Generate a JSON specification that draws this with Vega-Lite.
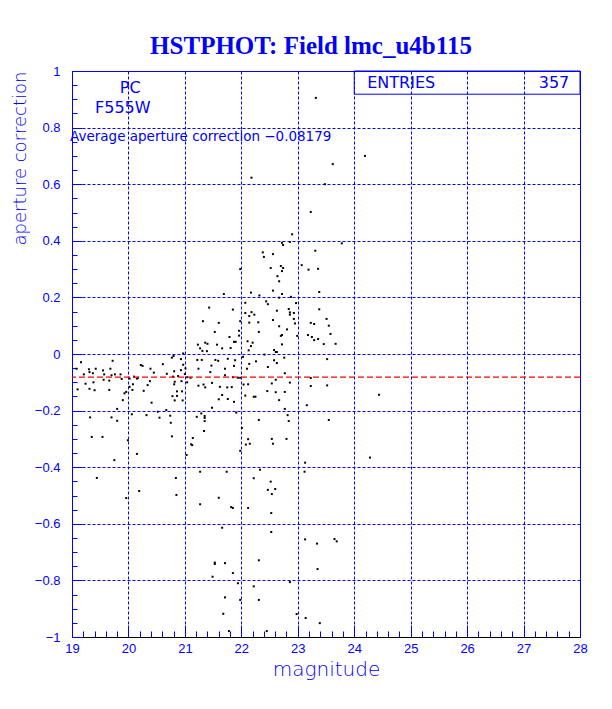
{
 "$schema": "https://vega.github.io/schema/vega-lite/v6.json",
 "width": 508, "height": 566,
 "autosize": {"type": "none"},
 "padding": {"left": 72, "top": 71, "right": 32, "bottom": 72},
 "background": "white",
 "title": {"text": "HSTPHOT: Field lmc_u4b115", "font": "Liberation Serif", "fontSize": 25, "fontWeight": "bold", "color": "#0000ff", "anchor": "middle", "frame": "group", "baseline": "alphabetic", "offset": 24, "dx": -15, "dy": 38},
 "config": {"view": {"stroke": "#0000ff", "strokeWidth": 1}},
 "datasets": {"stars": [
  {"magnitude":23.32,"apcorr":0.905},{"magnitude":23.62,"apcorr":0.671},{"magnitude":24.19,"apcorr":0.700},{"magnitude":22.18,"apcorr":0.623},{"magnitude":23.48,"apcorr":0.600},{"magnitude":23.23,"apcorr":0.502},{"magnitude":22.90,"apcorr":0.423},{"magnitude":22.72,"apcorr":0.393},{"magnitude":22.74,"apcorr":0.385},{"magnitude":22.86,"apcorr":0.396},{"magnitude":23.78,"apcorr":0.391},{"magnitude":23.31,"apcorr":0.365},{"magnitude":22.56,"apcorr":0.353},{"magnitude":22.38,"apcorr":0.359},{"magnitude":22.40,"apcorr":0.343},{"magnitude":21.98,"apcorr":0.300},{"magnitude":22.52,"apcorr":0.304},{"magnitude":22.70,"apcorr":0.311},{"magnitude":22.74,"apcorr":0.304},{"magnitude":22.72,"apcorr":0.293},{"magnitude":22.64,"apcorr":0.275},{"magnitude":23.07,"apcorr":0.314},{"magnitude":23.19,"apcorr":0.298},{"magnitude":23.36,"apcorr":0.301},{"magnitude":22.67,"apcorr":0.257},
  {"magnitude":22.17,"apcorr":0.217},{"magnitude":22.32,"apcorr":0.207},{"magnitude":21.69,"apcorr":0.212},{"magnitude":22.44,"apcorr":0.186},{"magnitude":22.47,"apcorr":0.176},{"magnitude":22.07,"apcorr":0.181},{"magnitude":21.43,"apcorr":0.164},{"magnitude":21.85,"apcorr":0.157},{"magnitude":22.18,"apcorr":0.148},{"magnitude":22.07,"apcorr":0.145},{"magnitude":22.14,"apcorr":0.134},{"magnitude":22.23,"apcorr":0.139},{"magnitude":21.32,"apcorr":0.116},{"magnitude":21.60,"apcorr":0.110},{"magnitude":21.98,"apcorr":0.116},{"magnitude":22.14,"apcorr":0.111},{"magnitude":22.30,"apcorr":0.112},{"magnitude":21.53,"apcorr":0.078},{"magnitude":22.31,"apcorr":0.078},{"magnitude":21.96,"apcorr":0.082},{"magnitude":21.96,"apcorr":0.065},{"magnitude":21.79,"apcorr":0.060},{"magnitude":21.36,"apcorr":0.040},{"magnitude":21.40,"apcorr":0.036},{"magnitude":21.23,"apcorr":0.033},{"magnitude":21.57,"apcorr":0.033},{"magnitude":21.87,"apcorr":0.043},{"magnitude":21.90,"apcorr":0.043},{"magnitude":22.11,"apcorr":0.045},{"magnitude":22.20,"apcorr":0.040},{"magnitude":21.27,"apcorr":0.020},{"magnitude":21.66,"apcorr":0.020},{"magnitude":21.81,"apcorr":0.021},{"magnitude":22.17,"apcorr":0.028},{"magnitude":22.13,"apcorr":0.013},{"magnitude":20.97,"apcorr":0.002},{"magnitude":21.31,"apcorr":0.011},{"magnitude":21.39,"apcorr":0.010},{"magnitude":22.03,"apcorr":-0.010},{"magnitude":20.93,"apcorr":-0.018},{"magnitude":21.22,"apcorr":-0.021},{"magnitude":21.30,"apcorr":-0.021},{"magnitude":21.54,"apcorr":-0.021},{"magnitude":21.76,"apcorr":-0.017},{"magnitude":21.89,"apcorr":-0.022},{"magnitude":22.26,"apcorr":-0.026},{"magnitude":22.41,"apcorr":-0.002},{"magnitude":20.97,"apcorr":-0.038},{"magnitude":21.01,"apcorr":-0.051},{"magnitude":21.24,"apcorr":-0.052},{"magnitude":21.47,"apcorr":-0.041},{"magnitude":21.59,"apcorr":-0.024},{"magnitude":21.71,"apcorr":-0.052},{"magnitude":21.87,"apcorr":-0.042},{"magnitude":22.14,"apcorr":-0.035},{"magnitude":22.47,"apcorr":-0.046},{"magnitude":20.93,"apcorr":-0.057},{"magnitude":21.00,"apcorr":-0.071},{"magnitude":21.45,"apcorr":-0.064},{"magnitude":22.10,"apcorr":-0.052},{"magnitude":21.04,"apcorr":-0.082},{"magnitude":21.10,"apcorr":-0.084},{"magnitude":21.71,"apcorr":-0.075},{"magnitude":21.85,"apcorr":-0.082},{"magnitude":21.94,"apcorr":-0.084},{"magnitude":21.98,"apcorr":-0.084},{"magnitude":20.94,"apcorr":-0.096},{"magnitude":21.04,"apcorr":-0.100},{"magnitude":21.24,"apcorr":-0.112},{"magnitude":21.33,"apcorr":-0.108},{"magnitude":21.36,"apcorr":-0.118},{"magnitude":21.48,"apcorr":-0.102},{"magnitude":21.62,"apcorr":-0.116},{"magnitude":21.75,"apcorr":-0.118},{"magnitude":21.83,"apcorr":-0.117},{"magnitude":22.04,"apcorr":-0.108},{"magnitude":22.12,"apcorr":-0.107},{"magnitude":20.95,"apcorr":-0.132},{"magnitude":21.66,"apcorr":-0.145},{"magnitude":22.07,"apcorr":-0.147},{"magnitude":22.22,"apcorr":-0.151},{"magnitude":22.25,"apcorr":-0.151},{"magnitude":22.46,"apcorr":-0.131},{"magnitude":20.96,"apcorr":-0.164},{"magnitude":21.60,"apcorr":-0.160},{"magnitude":21.76,"apcorr":-0.159},
  {"magnitude":22.56,"apcorr":0.224},{"magnitude":22.72,"apcorr":0.212},{"magnitude":22.67,"apcorr":0.199},{"magnitude":22.88,"apcorr":0.202},{"magnitude":23.38,"apcorr":0.219},{"magnitude":22.97,"apcorr":0.180},{"magnitude":22.63,"apcorr":0.153},{"magnitude":22.84,"apcorr":0.159},{"magnitude":22.86,"apcorr":0.147},{"magnitude":22.86,"apcorr":0.139},{"magnitude":22.93,"apcorr":0.145},{"magnitude":23.38,"apcorr":0.158},{"magnitude":22.93,"apcorr":0.124},{"magnitude":22.56,"apcorr":0.120},{"magnitude":22.95,"apcorr":0.108},{"magnitude":23.23,"apcorr":0.110},{"magnitude":23.29,"apcorr":0.106},{"magnitude":23.51,"apcorr":0.124},{"magnitude":23.55,"apcorr":0.100},{"magnitude":22.81,"apcorr":0.087},{"magnitude":22.72,"apcorr":0.067},{"magnitude":22.70,"apcorr":0.064},{"magnitude":22.99,"apcorr":0.064},{"magnitude":23.18,"apcorr":0.067},{"magnitude":23.25,"apcorr":0.060},{"magnitude":23.58,"apcorr":0.071},{"magnitude":23.29,"apcorr":0.049},{"magnitude":23.36,"apcorr":0.053},{"magnitude":23.46,"apcorr":0.035},{"magnitude":23.67,"apcorr":0.036},{"magnitude":22.72,"apcorr":0.034},{"magnitude":22.58,"apcorr":0.014},{"magnitude":22.61,"apcorr":0.007},{"magnitude":22.63,"apcorr":0.007},{"magnitude":22.76,"apcorr":-0.013},{"magnitude":23.52,"apcorr":-0.018},{"magnitude":22.58,"apcorr":-0.022},{"magnitude":22.63,"apcorr":-0.032},{"magnitude":22.77,"apcorr":-0.068},{"magnitude":23.23,"apcorr":-0.085},{"magnitude":22.61,"apcorr":-0.091},{"magnitude":23.23,"apcorr":-0.113},{"magnitude":23.52,"apcorr":-0.111},{"magnitude":22.77,"apcorr":-0.134},{"magnitude":22.61,"apcorr":-0.135},{"magnitude":24.44,"apcorr":-0.144},{"magnitude":22.67,"apcorr":-0.163},{"magnitude":22.54,"apcorr":-0.104},{"magnitude":22.86,"apcorr":-0.101},{"magnitude":22.67,"apcorr":0.098},
  {"magnitude":19.16,"apcorr":-0.029},{"magnitude":19.08,"apcorr":-0.052},{"magnitude":19.30,"apcorr":-0.054},{"magnitude":19.31,"apcorr":-0.064},{"magnitude":19.37,"apcorr":-0.068},{"magnitude":19.42,"apcorr":-0.052},{"magnitude":19.55,"apcorr":-0.058},{"magnitude":19.68,"apcorr":-0.052},{"magnitude":19.72,"apcorr":-0.024},{"magnitude":19.57,"apcorr":-0.072},{"magnitude":19.21,"apcorr":-0.072},{"magnitude":19.70,"apcorr":-0.075},{"magnitude":19.76,"apcorr":-0.072},{"magnitude":19.86,"apcorr":-0.072},{"magnitude":19.56,"apcorr":-0.091},{"magnitude":19.66,"apcorr":-0.094},{"magnitude":19.24,"apcorr":-0.105},{"magnitude":19.38,"apcorr":-0.100},{"magnitude":19.10,"apcorr":-0.125},{"magnitude":19.31,"apcorr":-0.123},{"magnitude":19.40,"apcorr":-0.128},{"magnitude":19.66,"apcorr":-0.127},{"magnitude":19.93,"apcorr":-0.139},{"magnitude":19.96,"apcorr":-0.134},{"magnitude":19.90,"apcorr":-0.163},{"magnitude":19.80,"apcorr":-0.194},{"magnitude":19.32,"apcorr":-0.224},{"magnitude":19.70,"apcorr":-0.224},{"magnitude":19.80,"apcorr":-0.236},{"magnitude":19.35,"apcorr":-0.293},{"magnitude":19.54,"apcorr":-0.293},{"magnitude":19.99,"apcorr":-0.305},{"magnitude":20.06,"apcorr":-0.213},{"magnitude":20.02,"apcorr":-0.116},{"magnitude":20.08,"apcorr":-0.107},{"magnitude":20.02,"apcorr":-0.087},{"magnitude":20.15,"apcorr":-0.087},{"magnitude":20.22,"apcorr":-0.039},{"magnitude":20.25,"apcorr":-0.042},{"magnitude":20.39,"apcorr":-0.052},{"magnitude":20.45,"apcorr":-0.066},{"magnitude":20.38,"apcorr":-0.096},{"magnitude":20.34,"apcorr":-0.110},{"magnitude":20.27,"apcorr":-0.130},{"magnitude":20.07,"apcorr":-0.127},{"magnitude":20.41,"apcorr":-0.172},{"magnitude":20.32,"apcorr":-0.216},{"magnitude":20.52,"apcorr":-0.204},{"magnitude":20.55,"apcorr":-0.225},{"magnitude":20.67,"apcorr":-0.198},{"magnitude":20.74,"apcorr":-0.218},{"magnitude":20.75,"apcorr":-0.243},{"magnitude":20.77,"apcorr":-0.291},{"magnitude":20.61,"apcorr":-0.036},{"magnitude":20.68,"apcorr":-0.070},{"magnitude":20.77,"apcorr":-0.013},{"magnitude":20.80,"apcorr":-0.007},{"magnitude":20.81,"apcorr":-0.061},{"magnitude":20.79,"apcorr":-0.080},{"magnitude":20.82,"apcorr":-0.098},{"magnitude":20.81,"apcorr":-0.107},{"magnitude":20.88,"apcorr":-0.078},{"magnitude":20.86,"apcorr":-0.132},{"magnitude":20.78,"apcorr":-0.149},{"magnitude":20.86,"apcorr":-0.148},{"magnitude":20.82,"apcorr":-0.164},{"magnitude":20.10,"apcorr":-0.080},{"magnitude":20.17,"apcorr":-0.084},{"magnitude":19.88,"apcorr":-0.088},
  {"magnitude":20.15,"apcorr":-0.353},{"magnitude":19.75,"apcorr":-0.375},{"magnitude":19.44,"apcorr":-0.438},{"magnitude":20.84,"apcorr":-0.438},{"magnitude":20.19,"apcorr":-0.484},{"magnitude":19.96,"apcorr":-0.509},{"magnitude":20.85,"apcorr":-0.498},
  {"magnitude":21.87,"apcorr":-0.169},{"magnitude":21.48,"apcorr":-0.190},{"magnitude":22.77,"apcorr":-0.194},{"magnitude":23.16,"apcorr":-0.181},{"magnitude":21.29,"apcorr":-0.210},{"magnitude":21.21,"apcorr":-0.222},{"magnitude":21.35,"apcorr":-0.219},{"magnitude":21.35,"apcorr":-0.226},{"magnitude":21.35,"apcorr":-0.237},{"magnitude":21.91,"apcorr":-0.207},{"magnitude":22.82,"apcorr":-0.216},{"magnitude":22.84,"apcorr":-0.237},{"magnitude":22.31,"apcorr":-0.233},{"magnitude":23.55,"apcorr":-0.233},{"magnitude":21.34,"apcorr":-0.272},{"magnitude":22.01,"apcorr":-0.261},{"magnitude":21.14,"apcorr":-0.297},{"magnitude":21.11,"apcorr":-0.319},{"magnitude":21.13,"apcorr":-0.322},{"magnitude":21.03,"apcorr":-0.357},{"magnitude":21.98,"apcorr":-0.342},{"magnitude":22.12,"apcorr":-0.301},{"magnitude":22.08,"apcorr":-0.320},{"magnitude":22.15,"apcorr":-0.317},{"magnitude":22.54,"apcorr":-0.300},{"magnitude":22.56,"apcorr":-0.317},{"magnitude":22.80,"apcorr":-0.300},{"magnitude":23.13,"apcorr":-0.384},{"magnitude":21.27,"apcorr":-0.416},{"magnitude":21.74,"apcorr":-0.416},{"magnitude":22.33,"apcorr":-0.409},{"magnitude":22.22,"apcorr":-0.439},{"magnitude":22.52,"apcorr":-0.451},{"magnitude":22.47,"apcorr":-0.480},{"magnitude":22.60,"apcorr":-0.477},{"magnitude":22.54,"apcorr":-0.495},{"magnitude":23.12,"apcorr":-0.416},{"magnitude":21.60,"apcorr":-0.508},{"magnitude":21.27,"apcorr":-0.531},{"magnitude":21.82,"apcorr":-0.541},{"magnitude":21.85,"apcorr":-0.544},{"magnitude":22.12,"apcorr":-0.544},{"magnitude":22.53,"apcorr":-0.562},{"magnitude":21.66,"apcorr":-0.614},{"magnitude":22.53,"apcorr":-0.629},{"magnitude":23.13,"apcorr":-0.655},{"magnitude":23.34,"apcorr":-0.670},{"magnitude":21.53,"apcorr":-0.737},{"magnitude":21.53,"apcorr":-0.742},{"magnitude":21.71,"apcorr":-0.739},{"magnitude":22.31,"apcorr":-0.729},{"magnitude":21.85,"apcorr":-0.774},{"magnitude":21.49,"apcorr":-0.787},{"magnitude":23.35,"apcorr":-0.760},{"magnitude":21.94,"apcorr":-0.810},{"magnitude":22.86,"apcorr":-0.806},{"magnitude":22.22,"apcorr":-0.821},{"magnitude":21.71,"apcorr":-0.860},{"magnitude":21.98,"apcorr":-0.869},{"magnitude":22.31,"apcorr":-0.869},{"magnitude":21.68,"apcorr":-0.918},{"magnitude":22.98,"apcorr":-0.919},{"magnitude":23.14,"apcorr":-0.933},{"magnitude":23.39,"apcorr":-0.951},{"magnitude":21.78,"apcorr":-0.979},{"magnitude":22.45,"apcorr":-0.979},
  {"magnitude":24.28,"apcorr":-0.366},{"magnitude":23.65,"apcorr":-0.654},{"magnitude":23.69,"apcorr":-0.662}
 ]},
 "layer": [
  {
   "data": {"name": "stars"},
   "mark": {"type": "point", "shape": "square", "filled": true, "size": 4, "color": "black", "opacity": 1, "strokeWidth": 0},
   "encoding": {
    "x": {"field": "magnitude", "type": "quantitative",
     "scale": {"domain": [19, 28], "nice": false, "zero": false},
     "axis": {
      "title": "magnitude",
      "values": [19,19.2,19.4,19.6,19.8,20,20.2,20.4,20.6,20.8,21,21.2,21.4,21.6,21.8,22,22.2,22.4,22.6,22.8,23,23.2,23.4,23.6,23.8,24,24.2,24.4,24.6,24.8,25,25.2,25.4,25.6,25.8,26,26.2,26.4,26.6,26.8,27,27.2,27.4,27.6,27.8,28],
      "tickCount": 500,
      "format": "~g",
      "labelExpr": "datum.value % 1 === 0 ? datum.label : ''",
      "labelFont": "Liberation Sans", "labelFontSize": 13, "labelColor": "#0000ff", "labelPadding": 17,
      "labelFlush": false, "labelOverlap": false,
      "domainColor": "black", "domainWidth": 1,
      "tickColor": "#0000ff", "tickWidth": 1,
      "tickSize": {"condition": {"test": "datum.value % 1 === 0", "value": -12}, "value": -6},
      "grid": true, "gridColor": "#0000ff", "gridDash": [3, 2], "gridWidth": 1,
      "gridOpacity": {"condition": {"test": "datum.value % 1 === 0", "value": 1}, "value": 0},
      "titleFont": "DejaVu Sans", "titleFontSize": 20, "titleFontWeight": 300, "titleColor": "#0000ff",
      "titleX": 254, "titleY": 38, "titleBaseline": "alphabetic", "titleAlign": "center"
     }},
    "y": {"field": "apcorr", "type": "quantitative",
     "scale": {"domain": [-1, 1], "nice": false, "zero": false},
     "axis": {
      "title": "aperture correction",
      "values": [-1,-0.95,-0.9,-0.85,-0.8,-0.75,-0.7,-0.65,-0.6,-0.55,-0.5,-0.45,-0.4,-0.35,-0.3,-0.25,-0.2,-0.15,-0.1,-0.05,0,0.05,0.1,0.15,0.2,0.25,0.3,0.35,0.4,0.45,0.5,0.55,0.6,0.65,0.7,0.75,0.8,0.85,0.9,0.95,1],
      "tickCount": 500,
      "format": "~g",
      "labelExpr": "abs(datum.value*5 - round(datum.value*5)) < 0.000001 ? datum.label : ''",
      "labelFont": "Liberation Sans", "labelFontSize": 13, "labelColor": "#0000ff", "labelPadding": 22,
      "labelFlush": false, "labelOverlap": false,
      "domainColor": "#0000ff", "domainWidth": 1,
      "tickColor": "#0000ff", "tickWidth": 1,
      "tickSize": {"condition": {"test": "abs(datum.value*5 - round(datum.value*5)) < 0.000001", "value": -10}, "value": -5},
      "grid": true, "gridColor": "#0000ff", "gridDash": [3, 2], "gridWidth": 1,
      "gridOpacity": {"condition": {"test": "abs(datum.value*5 - round(datum.value*5)) < 0.000001", "value": 1}, "value": 0},
      "titleFont": "DejaVu Sans", "titleFontSize": 18, "titleFontWeight": 300, "titleColor": "#0000ff",
      "titleAngle": -90, "titleX": -47, "titleY": 0, "titleAlign": "right", "titleBaseline": "alphabetic"
     }}
   }
  },
  {
   "data": {"values": [{}]},
   "mark": {"type": "rule", "color": "#ff0000", "strokeDash": [6, 3], "strokeWidth": 1.3},
   "encoding": {"y": {"datum": -0.08179}}
  },
  {
   "data": {"values": [{}]},
   "mark": {"type": "rect", "fill": null, "fillOpacity": 0, "stroke": "#0000ff", "strokeWidth": 1},
   "encoding": {"x": {"datum": 24}, "x2": {"datum": 28}, "y": {"datum": 0.918}, "y2": {"datum": 1}}
  },
  {
   "data": {"values": [{}]},
   "mark": {"type": "text", "text": "PC", "font": "DejaVu Sans", "fontSize": 16, "color": "#0000ff", "align": "center", "baseline": "middle"},
   "encoding": {"x": {"datum": 20.03}, "y": {"datum": 0.94}}
  },
  {
   "data": {"values": [{}]},
   "mark": {"type": "text", "text": "F555W", "font": "DejaVu Sans", "fontSize": 16, "color": "#0000ff", "align": "center", "baseline": "middle"},
   "encoding": {"x": {"datum": 19.9}, "y": {"datum": 0.869}}
  },
  {
   "data": {"values": [{}]},
   "mark": {"type": "text", "text": "Average aperture correction −0.08179", "font": "DejaVu Sans", "fontSize": 13.5, "color": "#0000ff", "align": "left", "baseline": "middle", "dx": -2},
   "encoding": {"x": {"datum": 19}, "y": {"datum": 0.767}}
  },
  {
   "data": {"values": [{}]},
   "mark": {"type": "text", "text": "ENTRIES", "font": "DejaVu Sans", "fontSize": 16, "color": "#0000ff", "align": "left", "baseline": "middle"},
   "encoding": {"x": {"datum": 24.23}, "y": {"datum": 0.958}}
  },
  {
   "data": {"values": [{}]},
   "mark": {"type": "text", "text": "357", "font": "DejaVu Sans", "fontSize": 16, "color": "#0000ff", "align": "right", "baseline": "middle"},
   "encoding": {"x": {"datum": 27.81}, "y": {"datum": 0.958}}
  }
 ]
}
